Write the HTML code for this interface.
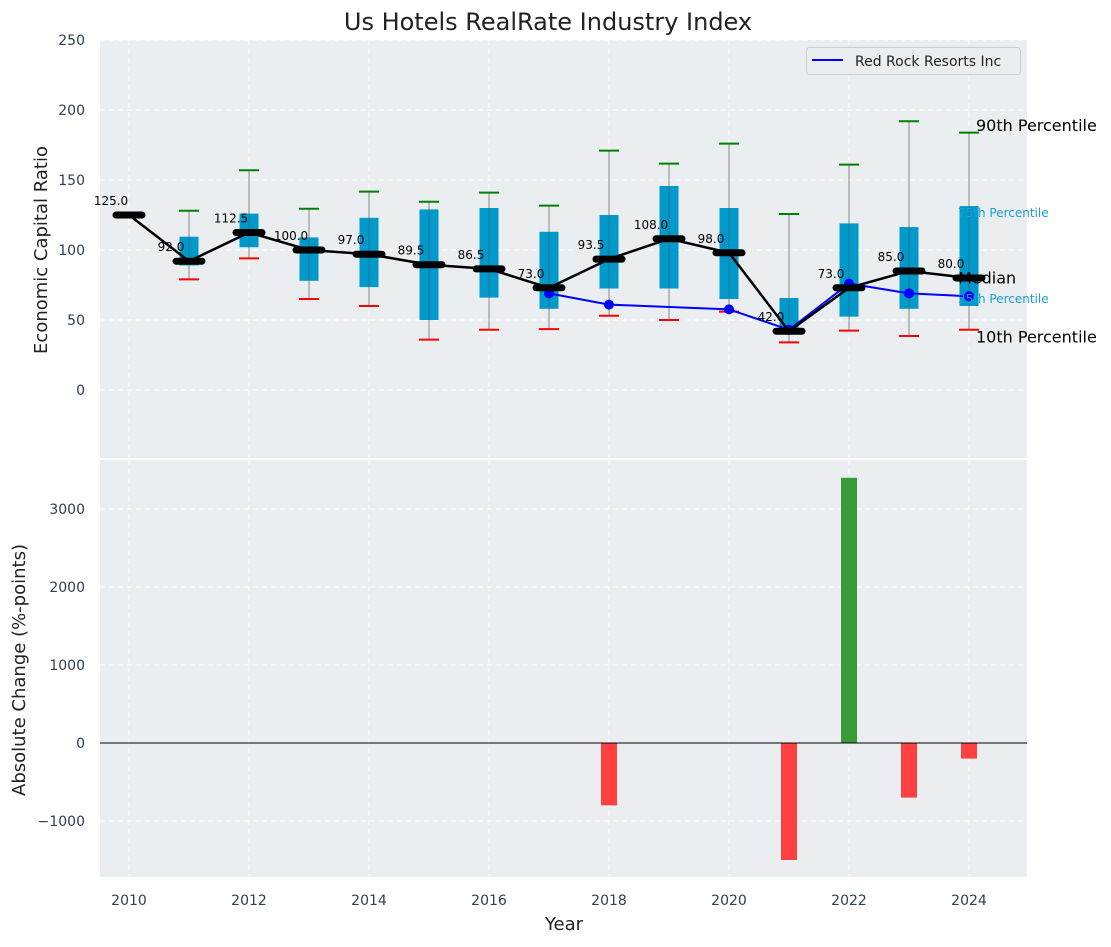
<!DOCTYPE html>
<html><head><meta charset="utf-8">
<style>
body{margin:0;background:#fff;font-family:"Liberation Sans","DejaVu Sans",sans-serif;}
svg text{font-family:"DejaVu Sans","Liberation Sans",sans-serif;}
</style></head>
<body>
<svg id="chart" width="1111" height="942" xmlns="http://www.w3.org/2000/svg">
<text x="548" y="30" text-anchor="middle" font-size="24" fill="#222">Us Hotels RealRate Industry Index</text>
<g id="topPanel"></g>
<g id="botPanel"></g>
</svg>
<script>
const years=[2010,2011,2012,2013,2014,2015,2016,2017,2018,2019,2020,2021,2022,2023,2024];
const medians=[125,92,112.5,100,97,89.5,86.5,73,93.5,108,98,42,73,85,80];
const p90=[null,128,157,129.5,141.7,134.5,141,131.7,171,161.7,176,125.7,161,192,183.8];
const p10=[null,79,94,65,60,36,43,43.5,53,50,56,34,42.4,38.6,43];
const q75=[null,109.5,126,109,123,129,130,113,125,145.7,130,65.7,119,116.4,131.4];
const q25=[null,89,102,78,73.5,50,66,58,72.5,72.5,65,40,52.4,58,60];
const rrYears=[2017,2018,2020,2021,2022,2023,2024];
const rrValues=[69,61,57.6,43,76,69,67];
const chgYears=[2018,2021,2022,2023,2024];
const chgValues=[-800,-1500,3400,-700,-200];
const topTicks=[0,50,100,150,200,250];
const botTicks=[-1000,0,1000,2000,3000];
const xTicks=[2010,2012,2014,2016,2018,2020,2022,2024];

const NS="http://www.w3.org/2000/svg";
const L=100,R=1027;
const X=y=>129+(y-2010)*60;
const YT=v=>390-1.4*v;
const YB=v=>743-0.078*v;
function mk(p,t,a){const e=document.createElementNS(NS,t);for(const k in a)e.setAttribute(k,a[k]);p.appendChild(e);return e;}
const gTop=document.getElementById('topPanel'),gBot=document.getElementById('botPanel');

let e=mk(gTop,'rect',{x:L,y:40,width:R-L,height:418,fill:'#eaeef0'});

e=mk(gBot,'rect',{x:L,y:460,width:R-L,height:417,fill:'#eaeef0'});


xTicks.forEach(t=>{
  e=mk(gTop,'line',{x1:X(t),x2:X(t),y1:40,y2:458,stroke:'#fff','stroke-dasharray':'5,4','stroke-width':1});
  
  e=mk(gBot,'line',{x1:X(t),x2:X(t),y1:460,y2:877,stroke:'#fff','stroke-dasharray':'5,4','stroke-width':1});
  
  e=mk(gBot,'text',{x:X(t),y:905,'text-anchor':'middle','font-size':14,fill:'#2e4053'});
  e.textContent=t;
  
});
topTicks.forEach(t=>{
  e=mk(gTop,'line',{x1:L,x2:R,y1:YT(t),y2:YT(t),stroke:'#fff','stroke-dasharray':'5,4','stroke-width':1});
  
  e=mk(gTop,'text',{x:85,y:YT(t)+5,'text-anchor':'end','font-size':14,fill:'#2e4053'});
  e.textContent=t;
  
});
botTicks.forEach(t=>{
  e=mk(gBot,'line',{x1:L,x2:R,y1:YB(t),y2:YB(t),stroke:'#fff','stroke-dasharray':'5,4','stroke-width':1});
  
  e=mk(gBot,'text',{x:85,y:YB(t)+5,'text-anchor':'end','font-size':14,fill:'#2e4053'});
  e.textContent=t<0?'\u2212'+(-t):t;
  
});

years.forEach((yr,i)=>{
  if(p90[i]==null)return;
  const x=X(yr);
  e=mk(gTop,'line',{x1:x,x2:x,y1:YT(p90[i]),y2:YT(p10[i]),stroke:'#888','stroke-width':1});
  
  e=mk(gTop,'rect',{x:x-9.5,y:YT(q75[i]),width:19,height:YT(q25[i])-YT(q75[i]),fill:'#0099cc'});
  
  e=mk(gTop,'line',{x1:x,x2:x,y1:YT(q75[i]),y2:YT(q25[i]),stroke:'#555','stroke-opacity':0.5,'stroke-width':1});
  
  e=mk(gTop,'line',{x1:x-10,x2:x+10,y1:YT(p90[i]),y2:YT(p90[i]),stroke:'green','stroke-width':2});
  
  e=mk(gTop,'line',{x1:x-10,x2:x+10,y1:YT(p10[i]),y2:YT(p10[i]),stroke:'red','stroke-width':2});
  
});

e=mk(gTop,'polyline',{points:rrYears.map((y,i)=>X(y)+','+YT(rrValues[i])).join(' '),fill:'none',stroke:'blue','stroke-width':2});

rrYears.forEach((y,i)=>{
  e=mk(gTop,'circle',{cx:X(y),cy:YT(rrValues[i]),r:5,fill:'blue'});
  
});

e=mk(gTop,'polyline',{points:years.map((y,i)=>X(y)+','+YT(medians[i])).join(' '),fill:'none',stroke:'#000','stroke-width':2.5});

years.forEach((y,i)=>{
  e=mk(gTop,'line',{x1:X(y)-13,x2:X(y)+13,y1:YT(medians[i]),y2:YT(medians[i]),stroke:'#000','stroke-width':7,'stroke-linecap':'round'});
  
  e=mk(gTop,'text',{x:X(y)-18,y:YT(medians[i])-10,'text-anchor':'middle','font-size':12,fill:'#000'});
  e.textContent=medians[i].toFixed(1);
  
});

const li=years.length-1,lx=X(years[li]);
[['90th Percentile',p90[li]+5,lx+7,16,'#000','annot-90th'],
 ['75th Percentile',q75[li]-5,lx-11,12,'#1a9fd0','annot-75th'],
 ['Median',medians[li],lx-11,16,'#000','annot-median'],
 ['25th Percentile',q25[li]+5,lx-11,12,'#1a9fd0','annot-25th'],
 ['10th Percentile',p10[li]-5,lx+7,16,'#000','annot-10th']].forEach(a=>{
  e=mk(gTop,'text',{x:a[2],y:YT(a[1]),'font-size':a[3],fill:a[4],'dominant-baseline':'central'});
  e.textContent=a[0];
  
});

const lg=mk(gTop,'g',{});

mk(lg,'rect',{x:806.5,y:47.5,width:214,height:27,rx:3,fill:'#eaeef0',stroke:'#ccc'});
mk(lg,'line',{x1:812,x2:843,y1:60,y2:60,stroke:'blue','stroke-width':2});
e=mk(lg,'text',{x:855,y:66,'font-size':14,fill:'#222'});e.textContent='Red Rock Resorts Inc';


chgYears.forEach((y,i)=>{
  const v=chgValues[i];
  e=mk(gBot,'rect',{x:X(y)-8,y:Math.min(YB(v),YB(0)),width:16,height:Math.abs(YB(v)-YB(0)),fill:v>=0?'#3a9a3a':'#ff4040'});
  
});
e=mk(gBot,'line',{x1:L,x2:R,y1:YB(0),y2:YB(0),stroke:'#000','stroke-width':1});


e=mk(gTop,'text',{x:47,y:250,'text-anchor':'middle','font-size':18,fill:'#222',transform:'rotate(-90 47 250)'});
e.textContent='Economic Capital Ratio';

e=mk(gBot,'text',{x:25,y:670,'text-anchor':'middle','font-size':18,fill:'#222',transform:'rotate(-90 25 670)'});
e.textContent='Absolute Change (%-points)';

e=mk(gBot,'text',{x:564,y:930,'text-anchor':'middle','font-size':18,fill:'#222'});
e.textContent='Year';

</script>
</body></html>
